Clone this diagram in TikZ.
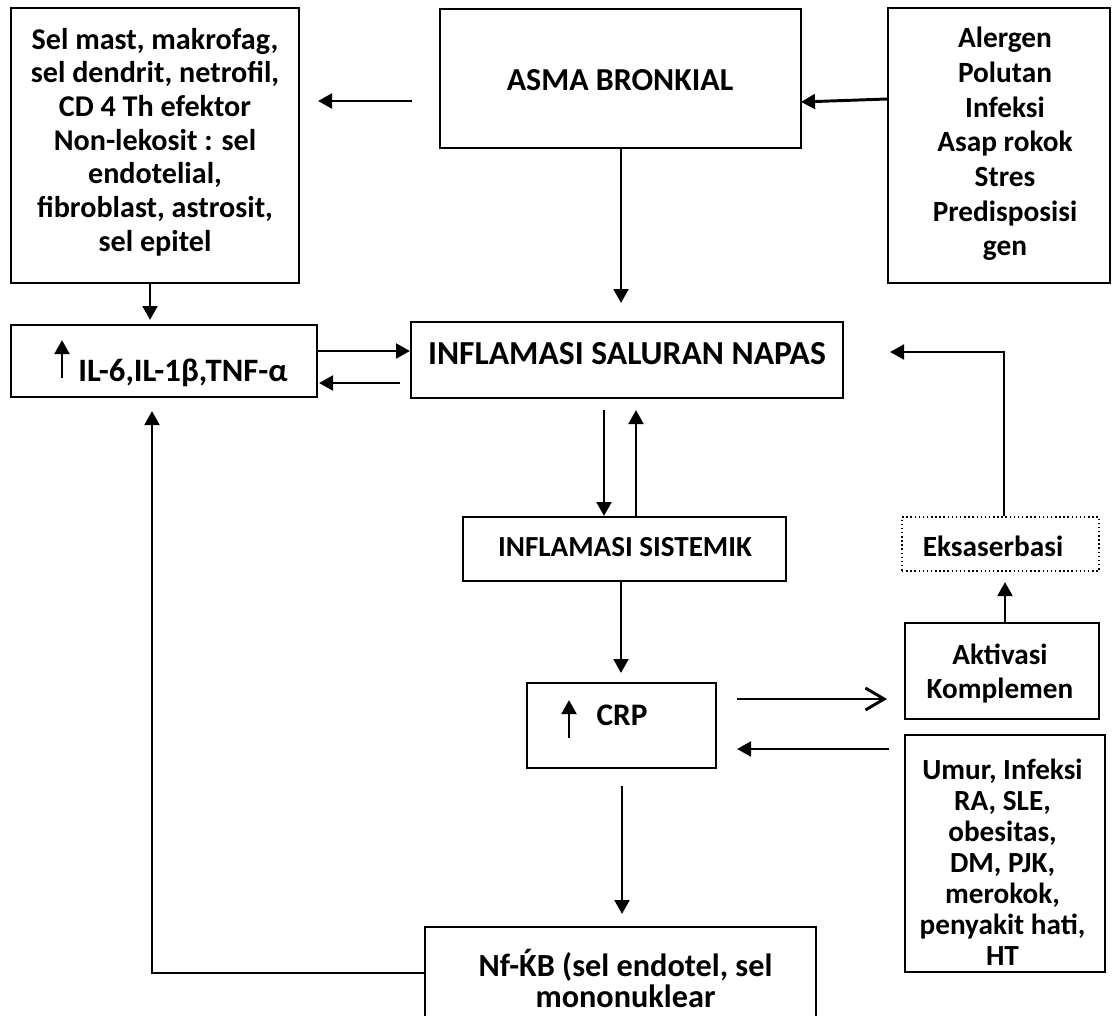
\documentclass[tikz,border=0pt]{standalone}
\usepackage{fontspec}
\setmainfont{Carlito}
\usetikzlibrary{arrows.meta}
\tikzset{
  box/.style={draw, line width=1.5pt, inner sep=0pt},
  dotbox/.style={draw, line width=1.1pt, dotted, inner sep=0pt},
  txt/.style={inner sep=0pt, align=center, font=\bfseries},
  arr/.style={line width=2.2pt, -{Triangle[length=10.5pt,width=11pt]}},
  oarr/.style={line width=2.2pt, -{Straight Barb[length=14pt,width=16.5pt,line width=2.2pt]}},
}
\newcommand{\fs}[2]{\fontsize{#1}{#2}\selectfont}
\begin{document}
\begin{tikzpicture}[x=0.75pt,y=-0.75pt]
\useasboundingbox (0,0) rectangle (1118,1015);
% boxes
\node[box, minimum width=288*0.75pt, minimum height=275*0.75pt] (b1) at (155,145.5) {};
\node[box, minimum width=361*0.75pt, minimum height=139*0.75pt] (asma) at (620,78) {};
\node[box, minimum width=222*0.75pt, minimum height=275*0.75pt] (al) at (999,145.5) {};
\node[box, minimum width=306*0.75pt, minimum height=72*0.75pt] (il) at (164,361) {};
\node[box, minimum width=432*0.75pt, minimum height=76*0.75pt] (sal) at (627,359.5) {};
\node[box, minimum width=323*0.75pt, minimum height=64*0.75pt] (sis) at (624.5,549) {};
\node[dotbox, minimum width=197*0.75pt, minimum height=54*0.75pt] (eks) at (1000.5,544) {};
\node[box, minimum width=189*0.75pt, minimum height=85*0.75pt] (crp) at (621.5,725.5) {};
\node[box, minimum width=194*0.75pt, minimum height=96*0.75pt] (akt) at (1002,671) {};
\node[box, minimum width=200*0.75pt, minimum height=237*0.75pt] (umur) at (1005,853.5) {};
\node[box, minimum width=391*0.75pt, minimum height=120*0.75pt] (nf) at (620.5,987) {};
% texts
\node[txt, font=\bfseries\fs{22.6pt}{25.3pt}] (t1) at (155,142) {Sel mast, makrofag,\\sel dendrit, netrofil,\\CD 4 Th efektor\\Non-lekosit : sel\\endotelial,\\fibroblast, astrosit,\\sel epitel};
\node[txt, font=\bfseries\fs{24pt}{28pt}] (tasma) at (620,80) {ASMA BRONKIAL};
\node[txt, font=\bfseries\fs{22pt}{26pt}] (tal) at (1005,144) {Alergen\\Polutan\\Infeksi\\Asap rokok\\Stres\\Predisposisi\\gen};
\node[txt, font=\bfseries\fs{24.5pt}{28pt}] (til) at (183,373) {IL-6,IL-1β,TNF-α};
\node[txt, font=\bfseries\fs{25.2pt}{28pt}] (tsal) at (627,353.5) {INFLAMASI SALURAN NAPAS};
\node[txt, font=\bfseries\fs{21.8pt}{26pt}] (tsis) at (625,547) {INFLAMASI SISTEMIK};
\node[txt, font=\bfseries\fs{22pt}{27pt}] (teks) at (993,546) {Eksaserbasi};
\node[txt, font=\bfseries\fs{21.9pt}{25.5pt}] (takt) at (1000,674) {Aktivasi\\Komplemen};
\node[txt, font=\bfseries\fs{23.5pt}{28pt}] (tcrp) at (622,715) {CRP};
\node[txt, font=\bfseries\fs{21.9pt}{23.2pt}] (tum) at (1002.5,862) {Umur, Infeksi\\RA, SLE,\\obesitas,\\DM, PJK,\\merokok,\\penyakit hati,\\HT};
\node[txt, font=\bfseries\fs{24.2pt}{23.3pt}, anchor=south] (tnf) at (625.5,1008) {Nf-{\accent"00B4 K}B (sel endotel, sel\\mononuklear};
% coordinates
\coordinate (a1s) at (412,101); \coordinate (a1e) at (318,101);
\coordinate (a2s) at (al.west |- 0,99); \coordinate (a2e) at (801,102);
\coordinate (a3e) at (621,303);
\coordinate (a4e) at (150,320);
\coordinate (a5e) at (410,351);
\coordinate (a6s) at (400,383); \coordinate (a6e) at (319,383);
\coordinate (a7s) at (604,410); \coordinate (a7e) at (604,516);
\coordinate (a8s) at (636,515.5); \coordinate (a8e) at (636,410);
\coordinate (a9e) at (621,673);
\coordinate (a10s) at (737,699); \coordinate (a10e) at (887,699);
\coordinate (a11s) at (889,749); \coordinate (a11e) at (737,749);
\coordinate (a12e) at (1005,582);
\coordinate (a13m) at (1004,352); \coordinate (a13e) at (890,352);
\coordinate (a14s) at (622,786); \coordinate (a14e) at (622,914);
\coordinate (a15m) at (152,973); \coordinate (a15e) at (152,411);
\coordinate (u1s) at (62,378); \coordinate (u1e) at (62,340);
\coordinate (u2s) at (569,738); \coordinate (u2e) at (569,700);
% connectors
\draw[arr] (a1s) -- (a1e);
\draw[arr] (a2s) -- (a2e);
\draw[arr] (asma.south -| a3e) -- (a3e);
\draw[arr] (b1.south -| a4e) -- (a4e);
\draw[arr] (il.east |- a5e) -- (a5e);
\draw[arr] (a6s) -- (a6e);
\draw[arr] (a7s) -- (a7e);
\draw[arr] (a8s) -- (a8e);
\draw[arr] (sis.south -| a9e) -- (a9e);
\draw[oarr] (a10s) -- (a10e);
\draw[arr] (a11s) -- (a11e);
\draw[arr] (akt.north -| a12e) -- (a12e);
\draw[arr] (eks.north -| a13m) -- (a13m) -- (a13e);
\draw[arr] (a14s) -- (a14e);
\draw[arr] (nf.west |- a15m) -- (a15m) -- (a15e);
\draw[arr] (u1s) -- (u1e);
\draw[arr] (u2s) -- (u2e);
\end{tikzpicture}
\end{document}
